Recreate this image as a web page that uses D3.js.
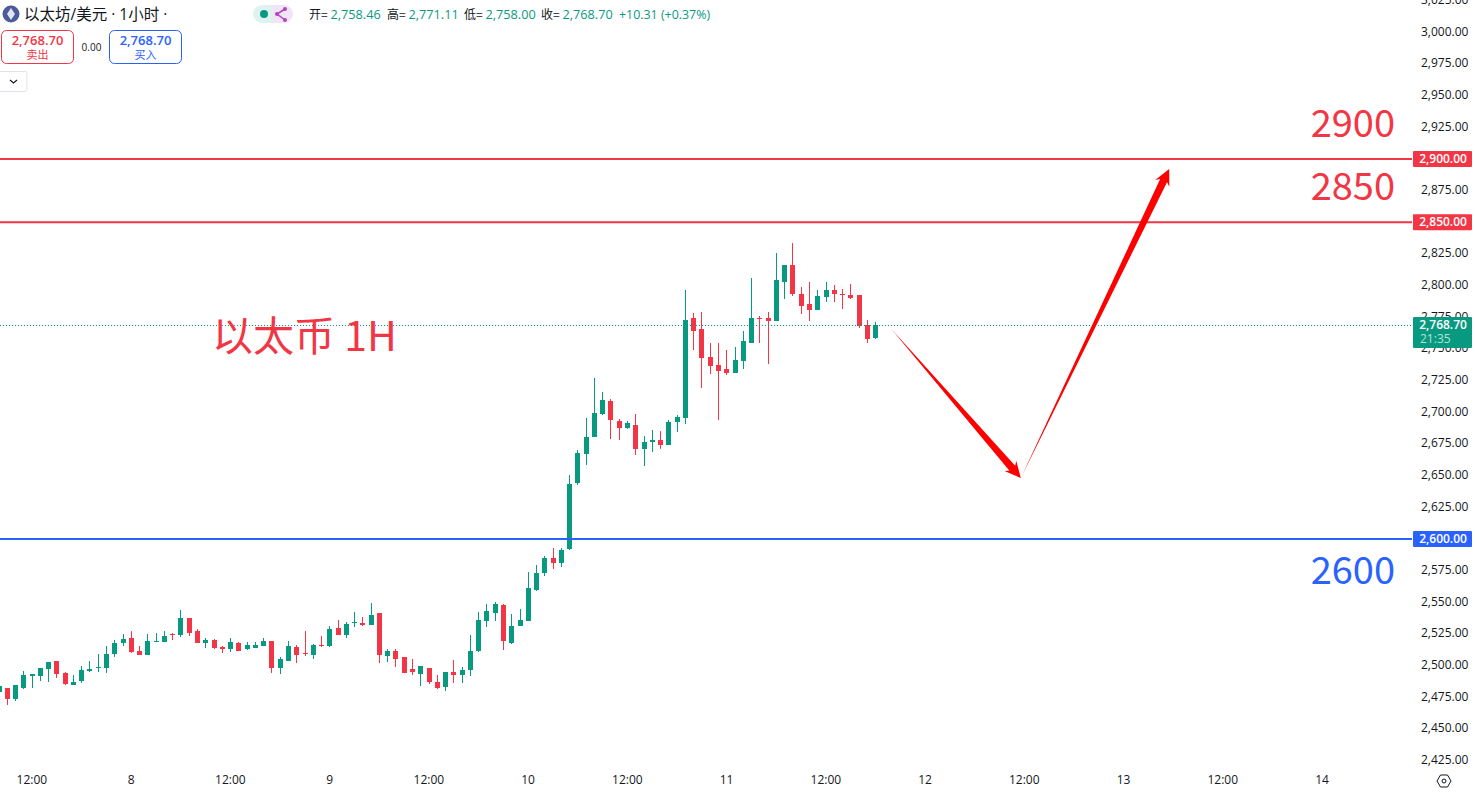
<!DOCTYPE html>
<html><head><meta charset="utf-8">
<script src="https://cdn.jsdelivr.net/npm/d3@7/dist/d3.min.js"></script>
<style>
html,body{margin:0;padding:0;background:#fff;overflow:hidden}
svg{display:block}
text{font-family:"Open Sans","Noto Sans CJK SC",sans-serif}
</style></head><body>
<script>
const opens=[2479.2,2482.4,2473.7,2482.4,2491.9,2491.9,2497.4,2503.7,2494.2,2484.7,2487.9,2495.8,2498.2,2498.2,2509.2,2517.9,2521.8,2511.6,2508.4,2518.7,2518.7,2525,2524.2,2537.6,2527.4,2517.9,2520.3,2514.8,2513.2,2517.9,2513.2,2514,2515.5,2519.5,2498.2,2503.7,2514.8,2510,2508.4,2516.3,2515.5,2529.7,2524.2,2533.7,2533.7,2532.1,2541.6,2507.6,2511.5,2506.8,2497.3,2493.4,2498.1,2487.1,2483.1,2495,2492.6,2496.5,2511.5,2535.2,2541.6,2547.9,2517.9,2531.3,2535.2,2559.7,2573.1,2585,2581,2592.1,2644.2,2667.1,2680.5,2698.7,2708.9,2693.1,2687.6,2690,2671,2676.6,2678.1,2674.2,2692.4,2695.5,2774.5,2765.8,2743.7,2737.4,2734.2,2731.1,2740.5,2754.7,2774.5,2774.5,2772.1,2802.9,2816.3,2793.4,2785.5,2780.8,2791.1,2796.6,2793.4,2792.6,2792.6,2768.9,2758.46];
const highs=[2484,2482.4,2484.7,2495.8,2493.4,2498.2,2502.9,2503.7,2495,2492.6,2499.8,2503.7,2509.2,2515.5,2520.3,2525,2527.4,2515.5,2525,2525.8,2527.4,2525.8,2544,2537.6,2529,2521.8,2521,2515.5,2521.8,2518.7,2518.7,2518.7,2521.8,2519.5,2506.8,2519.5,2516.3,2527.3,2517.1,2523.4,2531.3,2536,2534.4,2542.3,2538.4,2549.4,2541.6,2513.1,2513.1,2506.8,2505.2,2499.7,2498.1,2492.6,2495,2504.4,2498.9,2524.2,2542.3,2548.7,2550.2,2548.7,2540.8,2544.7,2574,2579.5,2586.6,2592.9,2592.9,2650.5,2670.3,2695.5,2727.1,2716,2710.5,2694.7,2693.1,2698.7,2681.3,2686,2685.3,2693.9,2697.9,2796.6,2778.4,2779.2,2754.7,2754.7,2749.2,2751.6,2764.2,2806.1,2776.1,2779.2,2825.8,2816.3,2833.7,2798.9,2802.9,2796.6,2802.9,2800.5,2797.4,2801.3,2792.6,2772.9,2771.11];
const lows=[2479,2469,2472.1,2481.6,2482.4,2487.9,2487.1,2490.3,2484.7,2484.7,2486.3,2495,2495,2494.2,2506.8,2515.5,2510,2508.4,2508.4,2518.7,2518.7,2520.3,2522.6,2523.4,2517.9,2514,2513.2,2510,2510.8,2511.6,2512.4,2514,2515.5,2494.2,2493.4,2503.7,2502.1,2507.6,2505.2,2514.7,2514.7,2524.2,2521.8,2530.5,2531.3,2532.1,2502.1,2502.9,2498.9,2494.2,2492.6,2483.9,2485.5,2481.5,2480,2486.3,2486.3,2491.8,2510.8,2530.5,2535.2,2512.3,2517.1,2531.3,2535.2,2558.9,2570.8,2576.3,2577.9,2591.3,2642.6,2658.4,2680.5,2697.9,2678.9,2678.1,2686.8,2666.3,2657.6,2668.7,2671,2674.2,2684.5,2690.8,2749.2,2719.2,2730.3,2694,2729.5,2731.1,2734.2,2754.7,2754.7,2738.2,2772.1,2789.5,2791.8,2777.6,2772.1,2780.8,2787.1,2787.1,2781.6,2789.5,2766.6,2754.7,2758];
const closes=[2484,2473.7,2484.7,2492.6,2493.4,2498.2,2502.9,2493.4,2485.5,2487.1,2496.6,2497.4,2499,2509.2,2517.9,2521,2510.8,2508.4,2519.5,2519.5,2523.4,2524.2,2537.6,2525.8,2517.9,2520.3,2514,2513.2,2518.7,2511.6,2516.3,2516.3,2519.5,2498.2,2505.3,2515.5,2508.4,2509.2,2516.3,2515.5,2528.9,2524.2,2532.9,2534.4,2532.1,2540,2508.4,2511.5,2505.2,2494.2,2495,2499.7,2487.1,2482.3,2495,2492.6,2496.5,2511.5,2536,2543.1,2548.7,2519.4,2531.3,2536,2561.3,2573.2,2585,2581,2591.3,2643.4,2667.9,2680.5,2699.5,2709.7,2693.9,2687.6,2691.6,2671,2676.6,2678.1,2674.2,2692.4,2696.3,2772.9,2764.2,2742.9,2736.6,2732.6,2731.1,2741.3,2756.3,2774.5,2773.7,2772.1,2804.5,2816.3,2793.4,2784,2780.8,2791.8,2796.6,2793.4,2792.6,2790.3,2768.2,2757.9,2768.7];
const yTicks=d3.range(2425,3026,25);
const timeTicks=[4,16,28,40,52,64,76,88,100,112,124,136,148,160];
const timeLabels=["12:00","8","12:00","9","12:00","10","12:00","11","12:00","12","12:00","13","12:00","14"];
const lastPrice=2768.70;
const levels=[2900,2850,2600];
const levelNames=["2900","2850","2600"];
const levelColors=["#f23645","#f23645","#2962ff"];
const arrowTimes=[[107.9,123.56],[123.56,141.5]];
const arrowPrices=[[2765.8,2648.2],[2648.2,2892.1]];
const legendNames=["开=","高=","低=","收="];
const legendValues=[2758.46,2771.11,2758.00,2768.70];
const legendX=[309,387,464,541];

const W=1475,H=792,UP="#089981",DOWN="#f23645",BLUE="#2962ff",INK="#131722",PLOT=1412;
const x=d3.scaleLinear().domain([0,160]).range([-0.97,1322.2]);
const y=d3.scaleLinear().domain([2600,2900]).range([539,159]);
const fmt=d3.format(",.2f");
const svg=d3.select("body").append("svg").attr("width",W).attr("height",H);
svg.append("defs").append("clipPath").attr("id","plot").append("rect").attr("width",PLOT).attr("height",H);
const plot=svg.append("g").attr("clip-path","url(#plot)");
const candles=opens.map((o,i)=>({i,o,h:highs[i],l:lows[i],c:closes[i]}));
const col=d=>d.c>=d.o?UP:DOWN;
const px=i=>Math.round(x(i)-0.5);
const cg=plot.append("g").attr("shape-rendering","crispEdges");
cg.selectAll(".w").data(candles).join("rect").attr("class","w")
  .attr("x",d=>px(d.i)).attr("width",1)
  .attr("y",d=>Math.round(y(d.h))).attr("height",d=>Math.max(1,Math.round(y(d.l))-Math.round(y(d.h)))).attr("fill",col);
cg.selectAll(".b").data(candles).join("rect").attr("class","b")
  .attr("x",d=>px(d.i)-2).attr("width",5)
  .attr("y",d=>Math.round(y(Math.max(d.o,d.c)))).attr("height",d=>Math.max(1,Math.round(y(Math.min(d.o,d.c)))-Math.round(y(Math.max(d.o,d.c))))).attr("fill",col);

// last price dotted line
plot.append("line").attr("x1",0).attr("x2",PLOT).attr("y1",Math.round(y(lastPrice))+.5).attr("y2",Math.round(y(lastPrice))+.5)
  .attr("stroke",UP).attr("stroke-dasharray","1 2");
// horizontal levels
plot.selectAll(".lvl").data(levels).join("line").attr("class","lvl")
  .attr("x1",0).attr("x2",PLOT).attr("y1",d=>y(d)).attr("y2",d=>y(d))
  .attr("stroke-width",2).attr("stroke",(d,i)=>levelColors[i]);

// arrows
function arrowPath(a,b){
  const dx=b[0]-a[0],dy=b[1]-a[1],L=Math.hypot(dx,dy),ux=dx/L,uy=dy/L,nx=-uy,ny=ux;
  const hl=16,hw=7.8,sw=3.8,neck=13;
  const p=(t,n)=>[a[0]+ux*t+nx*n,a[1]+uy*t+ny*n];
  return d3.line()([a,p(L-neck,sw),p(L-hl,hw),b,p(L-hl,-hw),p(L-neck,-sw)])+"Z";
}
plot.selectAll(".arrow").data(arrowTimes.map((t,i)=>({t,p:arrowPrices[i]}))).join("path").attr("class","arrow")
  .attr("fill","#ff0000")
  .attr("d",d=>arrowPath([x(d.t[0]),y(d.p[0])],[x(d.t[1]),y(d.p[1])]));

// annotations
svg.append("text").attr("x",212).attr("y",351).attr("font-size",41).attr("fill",DOWN)
  .style("font-family",'"Noto Sans CJK SC",sans-serif').text("以太币 1H");
svg.selectAll(".lvlName").data(levels).join("text").attr("class","lvlName")
  .attr("x",1395).attr("text-anchor","end").attr("font-size",38).attr("fill",(d,i)=>levelColors[i])
  .style("font-family",'"Noto Sans CJK SC",sans-serif')
  .attr("y",(d,i)=>[137,200,584][i]).text((d,i)=>levelNames[i]);

// y axis
const yAxis=d3.axisRight(y).tickValues(yTicks).tickFormat(fmt).tickSize(0).tickPadding(0);
const yg=svg.append("g").attr("transform","translate(1421,-1)").call(yAxis);
yg.select(".domain").remove();
yg.selectAll("text").attr("fill",INK).attr("font-size",12).style("font-family",'"Open Sans",sans-serif');

// x axis
const xAxis=d3.axisBottom(x).tickValues(timeTicks).tickFormat((d,i)=>timeLabels[i]).tickSize(0).tickPadding(0);
const xg=svg.append("g").attr("transform","translate(-0.7,775)").call(xAxis);
xg.select(".domain").remove();
xg.selectAll("text").attr("fill",INK).attr("font-size",12).style("font-family",'"Open Sans",sans-serif');

// price labels
const lab=svg.append("g");
levels.forEach((v,i)=>{
  lab.append("rect").attr("x",1413).attr("y",y(v)-8).attr("width",59).attr("height",16).attr("rx",1).attr("fill",levelColors[i]);
  lab.append("text").attr("x",1443).attr("y",y(v)+4).attr("text-anchor","middle").attr("font-size",12).attr("font-weight",600).attr("fill","#fff").text(fmt(v));
});
lab.append("rect").attr("x",1413).attr("y",317).attr("width",59).attr("height",31).attr("rx",1).attr("fill",UP);
lab.append("text").attr("x",1443).attr("y",329).attr("text-anchor","middle").attr("font-size",12).attr("font-weight",600).attr("fill","#fff").text(fmt(lastPrice));
lab.append("text").attr("x",1420).attr("y",343).attr("font-size",12).attr("fill","#b5e2d9").text("21:35");

// gear
const gear=svg.append("g").attr("transform","translate(1444,781)").attr("fill","none").attr("stroke",INK);
gear.append("path").attr("d","M-7,0L-3.5,-6H3.5L7,0L3.5,6H-3.5Z");
gear.append("circle").attr("r",2);

// header
const hd=svg.append("g");
hd.append("circle").attr("cx",11).attr("cy",14).attr("r",8.5).attr("fill","#4b5a98");
hd.append("path").attr("d","M11,8L15,14L11,20L7,14Z").attr("fill","#dfe5f7");
hd.append("text").attr("x",24).attr("y",20).attr("font-size",15.5).attr("fill",INK).text("以太坊/美元 · 1小时 ·");
hd.append("path").attr("d","M273,5H262a9,9 0 0 0 0,18H273Z").attr("fill","#dff2ef");
hd.append("path").attr("d","M273,5H284a9,9 0 0 1 0,18H273Z").attr("fill","#f3e3f6");
hd.append("circle").attr("cx",264).attr("cy",14).attr("r",4).attr("fill",UP);
hd.append("path").attr("d","M285,9L277,14L285,20").attr("fill","none").attr("stroke","#ab47bc").attr("stroke-width",1.5);
[[285,9],[277,14],[285,20]].forEach(p=>hd.append("circle").attr("cx",p[0]).attr("cy",p[1]).attr("r",2).attr("fill","#ab47bc"));
legendNames.forEach((n,i)=>{
  hd.append("text").attr("x",legendX[i]).attr("y",19).attr("font-size",12).attr("fill",INK)
    .style("font-family",'"Noto Sans CJK SC",sans-serif').text(n);
  hd.append("text").attr("x",legendX[i]+21.5).attr("y",19).attr("font-size",12.7).attr("fill",UP).text(fmt(legendValues[i]));
});
hd.append("text").attr("x",619).attr("y",19).attr("font-size",12.4).attr("fill",UP).text("+10.31 (+0.37%)");
[[1,DOWN,"卖出"],[109,BLUE,"买入"]].forEach(b=>{
  hd.append("rect").attr("x",b[0]+.5).attr("y",30.5).attr("width",72).attr("height",33).attr("rx",5).attr("fill","#fff").attr("stroke",b[1]);
  hd.append("text").attr("x",b[0]+36.5).attr("y",45).attr("text-anchor","middle").attr("font-size",13).attr("font-weight",600).attr("fill",b[1]).text(fmt(lastPrice));
  hd.append("text").attr("x",b[0]+36.5).attr("y",59).attr("text-anchor","middle").attr("font-size",11).attr("fill",b[1])
    .style("font-family",'"Noto Sans CJK SC",sans-serif').text(b[2]);
});
hd.append("text").attr("x",91.5).attr("y",51).attr("text-anchor","middle").attr("font-size",10).attr("fill",INK).text("0.00");
hd.append("rect").attr("x",-3).attr("y",71.5).attr("width",30).attr("height",20).attr("rx",2).attr("fill","#fff").attr("stroke","#e0e3eb");
hd.append("path").attr("d","M10,80L13.5,83L17,80").attr("fill","none").attr("stroke",INK).attr("stroke-width",1.2);
</script>
</body></html>
